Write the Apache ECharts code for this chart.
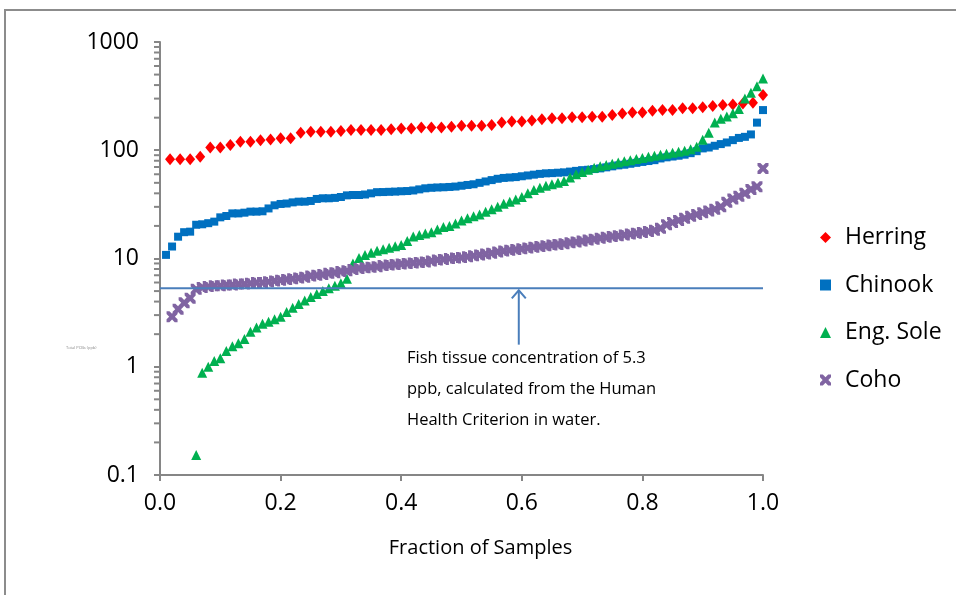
<!DOCTYPE html>
<html>
<head>
<meta charset="utf-8">
<script src="https://cdn.jsdelivr.net/npm/echarts@6/dist/echarts.min.js"></script>
<style>
html, body { margin: 0; padding: 0; background: #fff; }
#chart { width: 956px; height: 595px; }
</style>
</head>
<body>
<div id="chart"></div>
<script>
var FONT = '"Open Sans", "Noto Sans", sans-serif';

// ranked sample values (ppb); x = rank / count
var herring = [82.5, 82.5, 82.5, 87, 106, 106, 112, 120, 120, 124,
    126, 129, 129, 145, 148, 148, 148, 151, 154, 154,
    154, 154, 156, 159, 159, 162, 162, 162, 165, 168,
    168, 168, 171, 180, 184, 184, 188, 193, 197, 197,
    202, 202, 204, 204, 212, 219, 223, 223, 232, 236,
    236, 244, 244, 249, 256, 262, 265, 271, 275, 324];

var chinook = [10.8, 12.9, 15.9, 17.5, 17.7, 20.5, 20.7, 21.2, 21.9, 24.0,
    24.7, 26.1, 26.1, 26.5, 27.1, 27.1, 27.3, 29.0, 31.0, 31.9,
    32.2, 33.0, 33.5, 33.5, 34.0, 35.5, 36.0, 36.0, 36.3, 37.0,
    38.3, 38.6, 38.6, 39.0, 40.0, 41.0, 41.1, 41.3, 41.5, 41.8,
    42.0, 42.5, 43.5, 44.5, 45.0, 45.3, 45.5, 45.8, 46.2, 47.0,
    47.8, 48.5, 50.0, 51.5, 53.0, 54.5, 55.5, 56.0, 56.5, 57.5,
    58.5, 59.5, 60.5, 61.2, 61.5, 62.0, 62.5, 63.5, 64.5, 65.5,
    66.0, 67.0, 68.0, 69.5, 71.0, 72.5, 73.5, 75.0, 76.5, 78.0,
    79.5, 81.0, 84.0, 86.0, 87.5, 89.0, 91.0, 94.0, 98.0, 104,
    106, 110, 114, 118, 124, 130, 133, 140, 180, 235];

// null = below detection, not plotted
var engSole = [null, null, null, null, null, 0.153, 0.88, 1.0, 1.13, 1.2,
    1.4, 1.55, 1.65, 1.8, 2.1, 2.3, 2.5, 2.6, 2.75, 2.9,
    3.2, 3.5, 3.8, 4.1, 4.4, 4.7, 5.0, 5.3, 5.6, 5.9,
    6.5, 9.0, 10.1, 10.8, 11.3, 11.8, 12.2, 12.6, 13.0, 13.3,
    14.5, 16.0, 16.5, 17.0, 17.5, 18.5, 19.5, 20.0, 21.0, 22.5,
    23.5, 24.5, 25.5, 27.0, 28.5, 30.0, 32.0, 33.5, 35.0, 37.0,
    40.0, 43.0, 45.0, 47.0, 48.5, 50.0, 52.0, 56.0, 60.0, 63.0,
    66.0, 69.0, 71.0, 73.0, 75.0, 77.0, 79.0, 81.0, 83.0, 85.0,
    87.0, 89.0, 91.0, 93.0, 95.0, 97.0, 99.0, 102, 108, 125,
    145, 180, 195, 205, 220, 240, 300, 340, 390, 460];

var coho = [null, 2.9, 3.4, 3.9, 4.3, 5.2, 5.4, 5.5, 5.6, 5.6,
    5.7, 5.7, 5.8, 5.8, 5.9, 6.0, 6.0, 6.1, 6.2, 6.3,
    6.4, 6.5, 6.6, 6.7, 6.9, 7.0, 7.1, 7.3, 7.4, 7.6,
    7.7, 7.9, 8.1, 8.2, 8.3, 8.4, 8.6, 8.7, 8.8, 8.9,
    9.0, 9.1, 9.2, 9.3, 9.5, 9.7, 9.8, 10.0, 10.1, 10.2,
    10.4, 10.6, 10.8, 11.0, 11.2, 11.5, 11.7, 11.9, 12.1, 12.3,
    12.5, 12.7, 12.9, 13.1, 13.3, 13.5, 13.7, 14.0, 14.2, 14.5,
    14.8, 15.1, 15.4, 15.7, 16.0, 16.2, 16.5, 16.8, 17.1, 17.4,
    17.8, 18.2, 19.0, 20.5, 21.5, 22.5, 23.5, 24.5, 25.5, 26.5,
    27.5, 28.5, 30.0, 33.0, 35.5, 37.5, 40.0, 43.5, 46.0, 68.0];

var criterion = 5.3;          // fish tissue concentration (ppb)
var arrowAt = [0.595, 1.6];   // x fraction, value at arrow tail
var noteLines = ['Fish tissue concentration of 5.3',
    'ppb, calculated from the Human',
    'Health Criterion in water.'];

var crossIcon = 'path://M0,0L2.6,0L5,2.4L7.4,0L10,0L10,2.6L7.6,5L10,7.4L10,10L7.4,10L5,7.6L2.6,10L0,10L0,7.4L2.4,5L0,2.6Z';

function toPoints(values) {
    var out = [];
    values.forEach(function (v, i) {
        if (v != null) out.push([(i + 1) / values.length, v]);
    });
    return out;
}

// minor ticks 2..9 in each decade
var minorTicks = [];
[0.1, 1, 10, 100].forEach(function (d) {
    for (var k = 2; k <= 9; k++) minorTicks.push([0, d * k]);
});

var chart = echarts.init(document.getElementById('chart'));
var option = {
    animation: false,
    backgroundColor: '#fff',
    textStyle: { fontFamily: FONT },
    grid: { left: 160, right: 193, top: 42, bottom: 120 },
    legend: {
        orient: 'vertical',
        left: 815,
        top: 221,
        itemGap: 24.5,
        itemWidth: 11,
        itemHeight: 11,
        data: ['Herring', 'Chinook', 'Eng. Sole', 'Coho'],
        textStyle: { fontSize: 23, color: '#000', fontFamily: FONT, padding: [0, 0, 0, 9] }
    },
    xAxis: {
        type: 'value',
        min: 0,
        max: 1,
        interval: 0.2,
        name: 'Fraction of Samples',
        nameLocation: 'middle',
        nameGap: 63,
        nameTextStyle: { fontSize: 20, color: '#000', fontFamily: FONT, padding: [0, 0, 0, 38] },
        axisLine: { lineStyle: { color: '#868686', width: 2 } },
        axisTick: { show: true, length: 6, lineStyle: { color: '#868686', width: 2 } },
        axisLabel: {
            fontSize: 23, color: '#000', margin: 17, fontFamily: FONT,
            formatter: function (v) { return v.toFixed(1); }
        },
        splitLine: { show: false }
    },
    yAxis: {
        type: 'log',
        logBase: 10,
        min: 0.1,
        max: 1000,
        splitNumber: 4,
        axisLine: { show: true, lineStyle: { color: '#868686', width: 2 } },
        axisTick: { show: true, length: 6, lineStyle: { color: '#868686', width: 2 } },
        axisLabel: {
            fontSize: 23, color: '#000', margin: 21, fontFamily: FONT,
            formatter: function (v) { return String(Math.round(v * 10) / 10); }
        },
        splitLine: { show: false }
    },
    graphic: [
        { type: 'rect', shape: { x: 5, y: 10, width: 1000, height: 700 },
          style: { fill: null, stroke: '#8c8c8c', lineWidth: 2 }, silent: true },
        { type: 'text', left: 66, top: 346,
          style: { text: 'Total PCBs (ppb)', fontSize: 4, fill: '#888', fontFamily: FONT } },
        { type: 'text', left: 407, top: 343,
          style: { text: noteLines.join('\n'), fontSize: 16.5, lineHeight: 31, fill: '#000', fontFamily: FONT } }
    ],
    series: [
        {
            type: 'custom', silent: true, clip: false, z: 1,
            data: minorTicks,
            renderItem: function (params, api) {
                var p = api.coord([0, api.value(1)]);
                return { type: 'line', shape: { x1: p[0] - 6, y1: p[1], x2: p[0], y2: p[1] },
                    style: { stroke: '#868686', lineWidth: 2 } };
            }
        },
        { name: 'Herring', type: 'scatter', data: toPoints(herring), symbol: 'diamond',
          symbolSize: [10, 12], itemStyle: { color: '#FF0000', opacity: 1 } },
        { name: 'Chinook', type: 'scatter', data: toPoints(chinook), symbol: 'rect',
          symbolSize: 8, itemStyle: { color: '#0070C0', opacity: 1 } },
        { name: 'Eng. Sole', type: 'scatter', data: toPoints(engSole), symbol: 'triangle',
          symbolSize: [10, 10], itemStyle: { color: '#00B050', opacity: 1 } },
        { name: 'Coho', type: 'scatter', data: toPoints(coho), symbol: crossIcon,
          symbolSize: 11, itemStyle: { color: '#8064A2', opacity: 1 } },
        {
            type: 'line', silent: true, z: 5, symbol: 'none',
            data: [[0, criterion], [1, criterion]],
            lineStyle: { color: '#4A7EBB', width: 2 }
        },
        {
            type: 'custom', silent: true, clip: false, z: 5,
            data: [[arrowAt[0], arrowAt[1], criterion]],
            renderItem: function (params, api) {
                var tail = api.coord([api.value(0), api.value(1)]);
                var head = api.coord([api.value(0), api.value(2)]);
                var st = { stroke: '#4A7EBB', lineWidth: 2, fill: null };
                return { type: 'group', children: [
                    { type: 'line', shape: { x1: tail[0], y1: tail[1], x2: head[0], y2: head[1] + 2 }, style: st },
                    { type: 'polyline', shape: { points: [[head[0] - 7, head[1] + 10], [head[0], head[1] + 2], [head[0] + 7, head[1] + 10]] }, style: st }
                ] };
            }
        }
    ]
};
chart.setOption(option);
</script>
</body>
</html>
